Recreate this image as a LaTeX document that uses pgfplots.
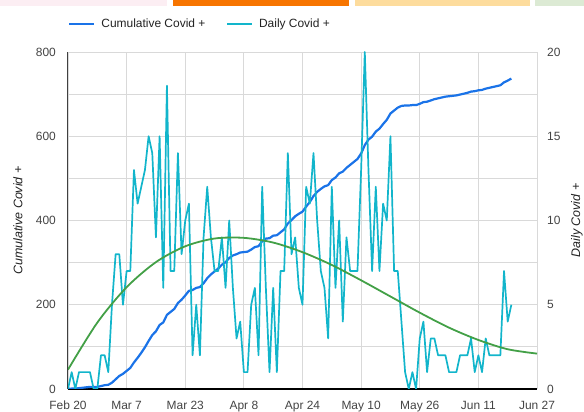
\documentclass[border=0pt]{standalone}
\usepackage{pgfplots}
\pgfplotsset{compat=1.18}
\usepackage{pgfplotstable}
\usepackage{fontspec}
\setmainfont{Liberation Sans}
\definecolor{cumblue}{HTML}{1A73E8}
\definecolor{dailycyan}{HTML}{12B5CB}
\definecolor{trendgreen}{HTML}{43A047}
\definecolor{gridgray}{HTML}{D9D9D9}
\definecolor{labelgray}{HTML}{444444}
\definecolor{titlegray}{HTML}{222222}
\definecolor{tabpink}{HTML}{FCEEF3}
\definecolor{taborange}{HTML}{F77500}
\definecolor{tabbeige}{HTML}{FDDC9D}
\definecolor{tabgreen}{HTML}{DCEAD4}

\pgfplotstableread{
d daily cum
0 0 0
1 1 1
2 0 1
3 1 2
4 1 3
5 1 4
6 1 5
7 0 5
8 0 5
9 2 7
10 2 9
11 1 10
12 5 15
13 8 23
14 8 31
15 5 36
16 7 43
17 7 50
18 13 63
19 11 74
20 12 86
21 13 99
22 15 114
23 14 128
24 9 137
25 15 152
26 6 158
27 18 176
28 7 183
29 7 190
30 14 204
31 8 212
32 10 222
33 11 233
34 2 235
35 5 240
36 2 242
37 9 251
38 12 263
39 9 272
40 7 279
41 7 286
42 9 295
43 6 301
44 10 311
45 6 317
46 3 320
47 4 324
48 1 325
49 1 326
50 5 331
51 6 337
52 2 339
53 12 351
54 6 357
55 1 358
56 6 364
57 1 365
58 7 372
59 7 379
60 14 393
61 8 401
62 9 410
63 6 416
64 5 421
65 12 433
66 11 444
67 14 458
68 10 468
69 7 475
70 6 481
71 3 484
72 12 496
73 6 502
74 10 512
75 4 516
76 9 525
77 7 532
78 7 539
79 7 546
80 13 559
81 20 579
82 13 592
83 7 599
84 12 611
85 7 618
86 11 629
87 10 639
88 15 654
89 7 661
90 7 668
91 4 672
92 1 673
93 0 673
94 1 674
95 0 674
96 3 677
97 4 681
98 1 682
99 3 685
100 3 688
101 2 690
102 2 692
103 2 694
104 1 695
105 1 696
106 1 697
107 2 699
108 2 701
109 2 703
110 3 706
111 1 707
112 2 709
113 1 710
114 3 713
115 2 715
116 2 717
117 2 719
118 2 721
119 7 728
120 4 732
121 5 737
}\covid

\pgfplotstableread{
d trend
0 1.15
8 3.94
16 6.04
24 7.53
32 8.47
40 8.93
48 8.97
56 8.69
64 8.12
72 7.36
80 6.45
88 5.49
96 4.53
104 3.64
112 2.91
120 2.36
128 2.10
}\trend

\pgfplotsset{
  base/.style={
    scale only axis, width=469bp, height=337bp,
    at={(0bp,0bp)}, anchor=south west,
    xmin=0, xmax=128,
    major tick length=0pt, minor tick length=0pt,
    tick label style={font=\fontsize{12}{14}\selectfont, text=labelgray},
    /pgf/number format/assume math mode=true,
    legend image code/.code={\draw[#1] (0bp,0bp) -- (25bp,0bp);},
  },
}

\begin{document}
\begin{tikzpicture}
% top tabs (page chrome)
\fill[tabpink] (-68bp,389bp) rectangle (99bp,383bp);
\fill[taborange] (105bp,389bp) rectangle (281bp,383bp);
\fill[tabbeige] (287bp,389bp) rectangle (462bp,383bp);
\fill[tabgreen] (467bp,389bp) rectangle (516bp,383bp);

\begin{axis}[base,
  ymin=0, ymax=800,
  ytick={0,200,400,600,800},
  minor ytick={100,300,500,700},
  xtick={0,16,32,48,64,80,96,112,128},
  xticklabels={Feb 20,Mar 7,Mar 23,Apr 8,Apr 24,May 10,May 26,Jun 11,Jun 27},
  grid=both,
  major grid style={gridgray, line width=0.9bp},
  minor grid style={gridgray, line width=0.9bp},
  axis x line*=bottom, axis y line*=left,
  x axis line style={black, line width=1.3bp, -},
  y axis line style={black!75, line width=1bp, -},
  yticklabel style={anchor=east, inner sep=0pt, xshift=-12bp},
  xticklabel style={anchor=base, inner sep=0pt, yshift=-20bp},
  every axis y label/.style={at={([xshift=-50bp]axis description cs:0,0.5)}, anchor=center, rotate=90,
    font=\fontsize{12.5}{14}\selectfont\itshape, text=titlegray},
  ylabel={Cumulative Covid +},
]
\addplot[cumblue, line width=2.2bp, line join=round] table[x=d, y=cum] {\covid};
\end{axis}

\begin{axis}[base,
  ymin=0, ymax=20,
  ytick={0,5,10,15,20},
  axis y line*=right, axis x line=none,
  y axis line style={draw=none},
  yticklabel style={anchor=west, inner sep=0pt, xshift=10bp},
  every axis y label/.style={at={([xshift=40bp]axis description cs:1,0.5)}, anchor=center, rotate=90,
    font=\fontsize{12.5}{14}\selectfont\itshape, text=titlegray},
  ylabel={Daily Covid +},
  legend columns=2,
  legend style={at={([yshift=28bp]axis description cs:0,1)}, anchor=west,
    draw=none, fill=none, inner sep=0pt,
    font=\fontsize{12}{14}\selectfont, text=titlegray,
    nodes={inner sep=0pt},
    /tikz/every odd column/.append style={column sep=6bp},
    /tikz/every even column/.append style={column sep=21bp}},
]
\addlegendimage{cumblue, line width=2.2bp}
\addlegendentry{Cumulative Covid +}
\addplot[dailycyan, line width=1.7bp, line join=round] table[x=d, y=daily] {\covid};
\addlegendentry{Daily Covid +}
\addplot[trendgreen, line width=1.8bp, smooth, forget plot] table[x=d, y=trend] {\trend};
\end{axis}

\pgfresetboundingbox
\path[use as bounding box] (-68bp,-23bp) rectangle (516bp,389bp);
\end{tikzpicture}
\end{document}
